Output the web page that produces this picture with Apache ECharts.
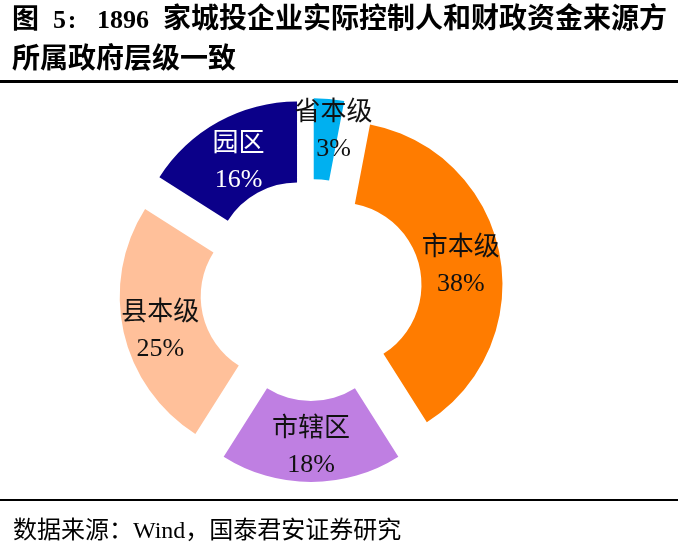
<!DOCTYPE html>
<html>
<head>
<meta charset="utf-8">
<script src="https://cdn.jsdelivr.net/npm/echarts@6/dist/echarts.min.js"></script>
<style>
html,body{margin:0;padding:0;background:#fff;}
#c{width:678px;height:547px;}
</style>
</head>
<body>
<div id="c"></div>
<script>
var categories = ['省本级', '市本级', '市辖区', '县本级', '园区'];
var values = [3, 38, 18, 25, 16];
var colors = ['#00B0F0', '#FF7C00', '#BF7FE2', '#FFC09A', '#0B0089'];
var labelColors = ['#111', '#111', '#111', '#111', '#fff'];
var titleParts = ['图', '5', ':', '1896', '家城投企业实际控制人和财政资金来源方'];
var titleLine2 = '所属政府层级一致';
var sourceText = '数据来源：Wind，国泰君安证券研究';

var FONT = '"Liberation Serif", "Noto Sans CJK SC", serif';

// label nudges (style only)
var labelNudge = [[8, -5], [-2, 5], [0, 3], [0, 7], [2, 8]];

var data = categories.map(function (name, i) {
  return {
    name: name,
    value: values[i],
    selected: true,
    itemStyle: { color: colors[i] },
    label: { color: labelColors[i] }
  };
});

var titleX = [12, 53, 72, 97, 667];
var titleAlign = ['left', 'left', 'center', 'left', 'right'];
var titleSize = [27, 26, 26, 26, 28];
var graphics = titleParts.map(function (t, i) {
  return {
    type: 'text', x: titleX[i], y: 21,
    style: { text: t, font: 'bold ' + titleSize[i] + 'px ' + FONT, fill: '#000', textAlign: titleAlign[i], textVerticalAlign: 'middle' }
  };
});
graphics.push(
  { type: 'text', x: 12, y: 61, style: { text: titleLine2, font: 'bold 28px ' + FONT, fill: '#000', textVerticalAlign: 'middle' } },
  { type: 'rect', shape: { x: 0, y: 80, width: 678, height: 3 }, style: { fill: '#000' } },
  { type: 'rect', shape: { x: 0, y: 499, width: 678, height: 2 }, style: { fill: '#000' } },
  { type: 'text', x: 13, y: 532, style: { text: sourceText, font: '24px ' + FONT, fill: '#000', textVerticalAlign: 'middle' } }
);

var chart = echarts.init(document.getElementById('c'), null, { renderer: 'canvas' });
chart.setOption({
  animation: false,
  backgroundColor: '#fff',
  graphic: graphics,
  series: [{
    type: 'pie',
    center: [311, 290],
    radius: [82, 163],
    startAngle: 90,
    clockwise: true,
    selectedMode: 'multiple',
    selectedOffset: 29,
    avoidLabelOverlap: false,
    emphasis: { disabled: true, scale: false },
    select: { itemStyle: { borderWidth: 0 } },
    itemStyle: { borderWidth: 0 },
    label: {
      show: true,
      position: 'inside',
      formatter: '{b}\n{c}%',
      fontSize: 26,
      fontFamily: FONT,
      lineHeight: 36,
      align: 'center'
    },
    labelLayout: function (p) {
      var n = labelNudge[p.dataIndex];
      return { dx: n[0], dy: n[1] };
    },
    labelLine: { show: false },
    data: data
  }]
});
</script>
</body>
</html>
